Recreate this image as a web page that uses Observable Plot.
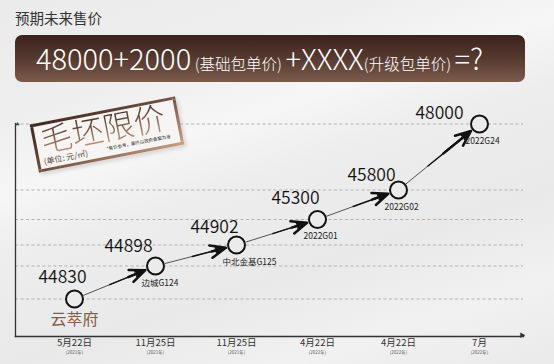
<!DOCTYPE html>
<html><head><meta charset="utf-8">
<script src="https://cdn.jsdelivr.net/npm/d3@7"></script>
<script src="https://cdn.jsdelivr.net/npm/@observablehq/plot@0.6"></script>
<style>
html,body{margin:0;padding:0;}
body{width:554px;height:364px;overflow:hidden;position:relative;font-family:"Noto Sans CJK SC","Noto Sans",sans-serif;
background:linear-gradient(162deg,#ebebeb 0%,#eeeeee 22%,#f6f6f6 36%,#ededed 48%,#e9e9e9 68%,#f1f1f1 84%,#eaeaea 100%);}
#head{position:relative;height:90px;}
#title{position:absolute;left:15px;top:9px;font-size:14.5px;color:#333;line-height:1.2;}
#banner{position:absolute;left:15px;top:35px;width:510px;height:47px;border-radius:7px;
background:linear-gradient(180deg,#3a231c 0%,#563a30 50%,#7b5b4d 100%);color:#fff;white-space:nowrap;}
#bt{position:absolute;left:21px;top:2px;line-height:40px;font-weight:300;}
.big{font-size:29px;}
.sm{font-size:15.5px;}
#stamp{position:absolute;left:33px;top:110px;width:142px;height:43px;border:3px solid #6b4a3c;
border-image:linear-gradient(160deg,#3f271f 0%,#6b4a3c 45%,#c99b80 100%) 1;background:#f7f5f3;
transform:rotate(-11deg);box-shadow:2px 3px 4px rgba(0,0,0,0.12);}
#stampTitle{position:absolute;left:5px;top:-7px;font-size:31.5px;letter-spacing:0px;font-weight:300;line-height:1.3;white-space:nowrap;
background:linear-gradient(180deg,#4a2e25 20%,#c0917a 90%);-webkit-background-clip:text;background-clip:text;color:transparent;}
#unit{position:absolute;left:4px;top:32px;font-size:8px;color:#5a3d33;line-height:1;white-space:nowrap;}
#note{position:absolute;left:68px;top:33px;font-size:4.5px;color:#333;line-height:1;white-space:nowrap;}
#chart svg{display:block;}
</style></head>
<body>
<div id="head">
  <div id="title">预期未来售价</div>
  <div id="banner"><div id="bt"><span class="big">48000+2000</span> <span class="sm">(基础包单价)</span> <span class="big">+XXXX</span><span class="sm">(升级包单价)</span> <span class="big">=?</span></div></div>
</div>
<div id="chart"></div>
<div id="stamp"><div id="stampTitle">毛坯限价</div><div id="unit">(单位: 元/㎡)</div><div id="note">*售价参考，最终以政府备案为准</div></div>
<script>
const projects = ["云萃府","边城G124","中北金基G125","2022G01","2022G02","2022G24"];
const prices = [44830,44898,44902,45300,45800,48000];
const dates = ["5月22日","11月25日","11月25日","4月22日","4月22日","7月"];
const years = ["(2021年)","(2021年)","(2021年)","(2022年)","(2022年)","(2022年)"];

// layout / style constants (not data)
const yRange = [208.5,175.5,154.5,129,99.5,33.5];
const valueNudge = [[-12,-22],[-27,-20],[-22,-18],[-22,-21],[-27,-15],[-40,-11]];

const data = projects.map((p,i)=>({project:p, price:prices[i], date:dates[i], year:years[i], i}));
const segs = d3.pairs(data).map(([a,b])=>({x1:a.project,y1:a.price,x2:b.project,y2:b.price}));

const font = '"Noto Sans CJK SC","Noto Sans",sans-serif';
const seg = {x1:"x1",y1:"y1",x2:"x2",y2:"y2", stroke:"#111"};
const marks = [
  Plot.ruleY(prices, {stroke:"#b3b3b3", strokeDasharray:"3,2.5", strokeWidth:1}),
  Plot.frame({anchor:"left", stroke:"#333", strokeWidth:1.3}),
  Plot.frame({anchor:"bottom", stroke:"#333", strokeWidth:1.5}),
  Plot.text(["▶"], {frameAnchor:"bottom-right", fontSize:6, dx:2, fill:"#333"}),
  Plot.text(["▲"], {frameAnchor:"top-left", fontSize:4, fill:"#333"}),
  Plot.arrow(segs, {...seg, strokeWidth:0.7, headLength:0, insetStart:10, insetEnd:14}),
  Plot.arrow(segs, {...seg, strokeWidth:1.4, headLength:0, insetStart:38, insetEnd:14}),
  Plot.arrow(segs, {...seg, strokeWidth:2.5, headLength:10, headAngle:45, insetStart:58, insetEnd:11}),
  Plot.arrow(segs, {...seg, strokeWidth:2, headLength:7, headAngle:28, insetStart:60, insetEnd:12}),
  Plot.dot(data, {x:"project", y:"price", r:8.5, stroke:"#111", strokeWidth:2, fill:"#ebebeb"}),
  ...data.map((d,k)=>Plot.text([d], {x:"project", y:"price", text:e=>String(e.price), fontSize:17.5, fontWeight:350, fill:"#111", dx:valueNudge[k][0], dy:valueNudge[k][1]})),
  Plot.text(data.filter(d=>d.i>0), {x:"project", y:"price", text:"project", fontSize:8.5, fill:"#222", textAnchor:"start", dx:-14, dy:17}),
  Plot.text(data.filter(d=>d.i===0), {x:"project", y:"price", text:"project", fontSize:16, fill:"#8a5a47", dy:21}),
  Plot.text(data, {x:"project", frameAnchor:"bottom", text:"date", fontSize:9.5, fill:"#333", dy:9.5}),
  Plot.text(data, {x:"project", frameAnchor:"bottom", text:"year", fontSize:4.5, fill:"#555", dy:17})
];

const chart = Plot.plot({
  width:554, height:274,
  marginLeft:15, marginRight:31, marginTop:33, marginBottom:28,
  style:{background:"transparent", fontFamily:font, overflow:"visible"},
  x:{type:"point", domain:projects, range:[72.5,481], padding:0, axis:null},
  y:{type:"linear", domain:prices, range:yRange, axis:null},
  marks
});
document.getElementById("chart").appendChild(chart);
</script>
</body></html>
